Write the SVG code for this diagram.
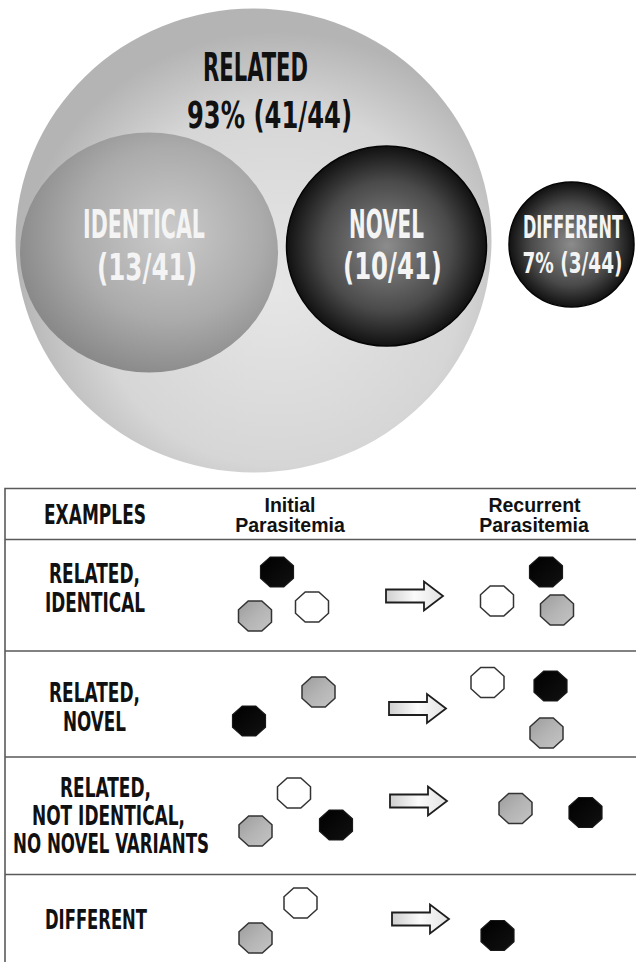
<svg xmlns="http://www.w3.org/2000/svg" xmlns:xlink="http://www.w3.org/1999/xlink" width="636" height="962" viewBox="0 0 636 962">
<style>
.bb{font-family:"Liberation Sans Narrow","DejaVu Sans Condensed","Liberation Sans",sans-serif;font-weight:bold;text-anchor:middle}
.dk{fill:#111}
.wt{fill:#f4f4f4}
.hd{font-family:"Liberation Sans",Arial,sans-serif;font-weight:bold;font-size:19.5px;fill:#111;text-anchor:middle}
.ln{stroke:#5a5a5a;stroke-width:1.6;fill:none}
.blk{fill:url(#gBlk);stroke:#1a1a1a;stroke-width:1.2}
.gry{fill:url(#gGry);stroke:#333;stroke-width:1.5}
.wht{fill:#fff;stroke:#333;stroke-width:1.5}
.arr{fill:url(#gArr);stroke:#1e1e1e;stroke-width:1.8;stroke-linejoin:miter}
</style>
<defs>
<radialGradient id="gBig" cx="0.55" cy="0.6" r="0.55">
<stop offset="0" stop-color="#e6e6e6"/>
<stop offset="0.7" stop-color="#d6d6d6"/>
<stop offset="1" stop-color="#b4b4b4"/>
</radialGradient>
<radialGradient id="gIdent" cx="0.58" cy="0.42" r="0.6">
<stop offset="0" stop-color="#cbcbcb"/>
<stop offset="0.6" stop-color="#ababab"/>
<stop offset="1" stop-color="#8a8a8a"/>
</radialGradient>
<radialGradient id="gDark" cx="0.5" cy="0.5" r="0.5">
<stop offset="0" stop-color="#8c8c8c"/>
<stop offset="0.65" stop-color="#4a4a4a"/>
<stop offset="1" stop-color="#111"/>
</radialGradient>
<linearGradient id="gBlk" x1="0" y1="0" x2="1" y2="1">
<stop offset="0" stop-color="#000"/>
<stop offset="1" stop-color="#111"/>
</linearGradient>
<linearGradient id="gGry" x1="0" y1="0" x2="1" y2="1">
<stop offset="0" stop-color="#9c9c9c"/>
<stop offset="0.5" stop-color="#b4b4b4"/>
<stop offset="1" stop-color="#c4c4c4"/>
</linearGradient>
<linearGradient id="gArr" x1="0" y1="0" x2="1" y2="0">
<stop offset="0" stop-color="#cfcfcf"/>
<stop offset="0.5" stop-color="#fbfbfb"/>
<stop offset="1" stop-color="#e2e2e2"/>
</linearGradient>
<polygon id="oct" points="-6.8,-15 6.8,-15 16.5,-6.2 16.5,6.2 6.8,15 -6.8,15 -16.5,6.2 -16.5,-6.2"/>
<polygon id="arrow" points="0,-6.5 38,-6.5 38,-14.5 57,0 38,14.5 38,6.5 0,6.5"/>
</defs>

<g id="related">
<ellipse cx="253.5" cy="240.5" rx="238" ry="232" fill="url(#gBig)"/>
<text class="bb dk" x="255.5" y="81" font-size="39" textLength="105" lengthAdjust="spacingAndGlyphs">RELATED</text>
<text class="bb dk" x="269.5" y="128" font-size="37" textLength="165" lengthAdjust="spacingAndGlyphs">93% (41/44)</text>
</g>

<g id="identical">
<ellipse cx="149" cy="252.5" rx="129" ry="120" fill="url(#gIdent)"/>
<text class="bb wt" x="144" y="238" font-size="39" textLength="122" lengthAdjust="spacingAndGlyphs">IDENTICAL</text>
<text class="bb wt" x="147" y="280" font-size="38" textLength="100" lengthAdjust="spacingAndGlyphs">(13/41)</text>
</g>

<g id="novel">
<circle cx="386.5" cy="246" r="100" fill="url(#gDark)" stroke="#050505" stroke-width="1.5"/>
<text class="bb wt" x="386.5" y="238" font-size="39" textLength="75" lengthAdjust="spacingAndGlyphs">NOVEL</text>
<text class="bb wt" x="392.5" y="279" font-size="38" textLength="99" lengthAdjust="spacingAndGlyphs">(10/41)</text>
</g>

<g id="different">
<circle cx="571.5" cy="244.5" r="62.5" fill="url(#gDark)" stroke="#050505" stroke-width="1.5"/>
<text class="bb wt" transform="translate(573,238) scale(1,1.75)" x="0" y="0" font-size="18" textLength="100" lengthAdjust="spacingAndGlyphs">DIFFERENT</text>
<text class="bb wt" transform="translate(572.5,273) scale(1,1.7)" x="0" y="0" font-size="17" textLength="100" lengthAdjust="spacingAndGlyphs">7% (3/44)</text>
</g>

<g id="table">
<path class="ln" d="M5,962 V488.5 H640 M5,539.5 H640 M5,651 H640 M5,757 H640 M5,874.5 H640"/>
</g>

<g id="header">
<text class="bb dk" x="95" y="524" font-size="26.5" textLength="102" lengthAdjust="spacingAndGlyphs">EXAMPLES</text>
<text class="hd" x="290" y="512">Initial</text>
<text class="hd" x="290" y="532">Parasitemia</text>
<text class="hd" x="534.5" y="512">Recurrent</text>
<text class="hd" x="534" y="532">Parasitemia</text>
</g>

<g id="row-related-identical">
<text class="bb dk" x="94.5" y="583" font-size="26" textLength="91" lengthAdjust="spacingAndGlyphs">RELATED,</text>
<text class="bb dk" x="95" y="612" font-size="26" textLength="100" lengthAdjust="spacingAndGlyphs">IDENTICAL</text>
<use xlink:href="#oct" class="blk" x="277" y="572"/>
<use xlink:href="#oct" class="gry" x="255" y="616"/>
<use xlink:href="#oct" class="wht" x="312" y="607"/>
<use xlink:href="#oct" class="wht" x="497" y="601"/>
<use xlink:href="#oct" class="blk" x="546" y="572"/>
<use xlink:href="#oct" class="gry" x="557" y="610"/>
</g>

<g id="row-related-novel">
<text class="bb dk" x="94.5" y="701.5" font-size="26" textLength="91" lengthAdjust="spacingAndGlyphs">RELATED,</text>
<text class="bb dk" x="94.5" y="730.5" font-size="26" textLength="63" lengthAdjust="spacingAndGlyphs">NOVEL</text>
<use xlink:href="#oct" class="gry" x="318.5" y="692"/>
<use xlink:href="#oct" class="blk" x="249" y="721"/>
<use xlink:href="#oct" class="wht" x="487.5" y="682.5"/>
<use xlink:href="#oct" class="blk" x="550.5" y="686"/>
<use xlink:href="#oct" class="gry" x="546.5" y="733"/>
</g>

<g id="row-related-not-identical">
<text class="bb dk" x="105.5" y="797" font-size="26" textLength="91" lengthAdjust="spacingAndGlyphs">RELATED,</text>
<text class="bb dk" x="108.5" y="825" font-size="26" textLength="153" lengthAdjust="spacingAndGlyphs">NOT IDENTICAL,</text>
<text class="bb dk" x="111" y="853" font-size="26" textLength="196" lengthAdjust="spacingAndGlyphs">NO NOVEL VARIANTS</text>
<use xlink:href="#oct" class="wht" x="294" y="793"/>
<use xlink:href="#oct" class="gry" x="255.5" y="831"/>
<use xlink:href="#oct" class="blk" x="336" y="825"/>
<use xlink:href="#oct" class="gry" x="515.5" y="808.5"/>
<use xlink:href="#oct" class="blk" x="585.5" y="812.5"/>
</g>

<g id="row-different">
<text class="bb dk" x="96" y="929" font-size="26.5" textLength="102" lengthAdjust="spacingAndGlyphs">DIFFERENT</text>
<use xlink:href="#oct" class="wht" x="300.5" y="903"/>
<use xlink:href="#oct" class="gry" x="255.5" y="938"/>
<use xlink:href="#oct" class="blk" x="497.5" y="935.5"/>
</g>

<g id="connectors">
<use xlink:href="#arrow" class="arr" x="386" y="596"/>
<use xlink:href="#arrow" class="arr" x="389" y="708.5"/>
<use xlink:href="#arrow" class="arr" x="390" y="801"/>
<use xlink:href="#arrow" class="arr" x="392" y="919"/>
</g>
</svg>
